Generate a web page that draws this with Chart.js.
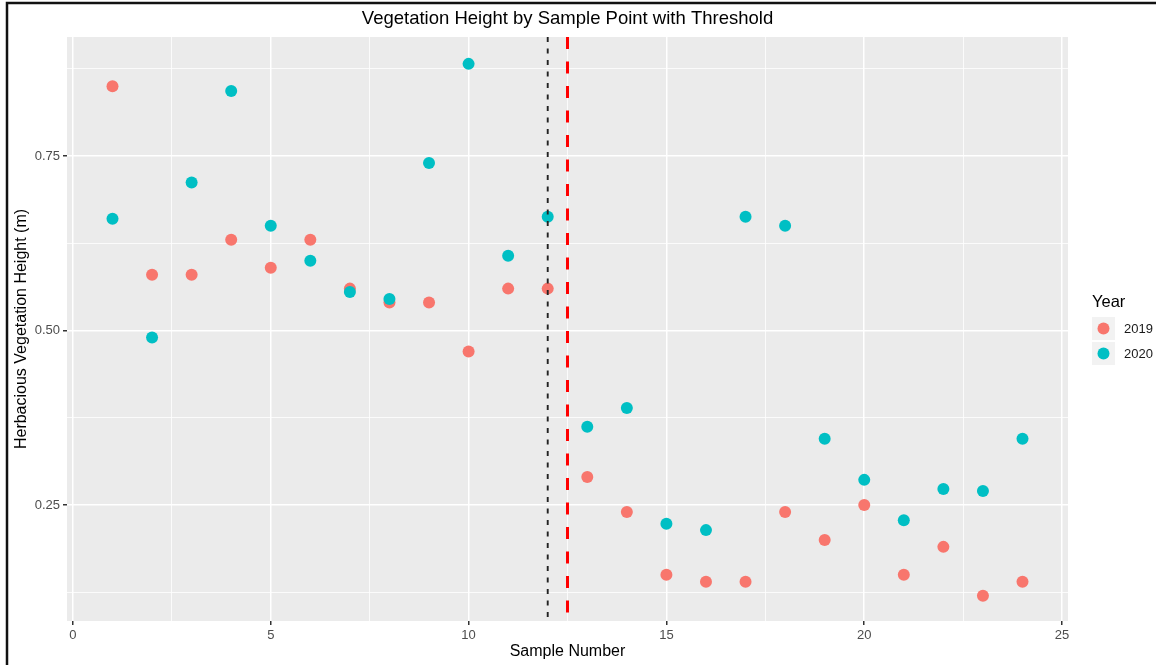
<!DOCTYPE html>
<html>
<head>
<meta charset="utf-8">
<title>Vegetation Height by Sample Point with Threshold</title>
<script src="https://cdn.jsdelivr.net/npm/chart.js@4/dist/chart.umd.min.js"></script>
<style>
  html, body { margin: 0; padding: 0; background: #ffffff; }
  canvas { display: block; }
</style>
</head>
<body>
<canvas id="chart" width="1156" height="665"></canvas>
<script>
// sample points and measured heights (m)
const samples = [1, 2, 3, 4, 5, 6, 7, 8, 9, 10, 11, 12, 13, 14, 15, 16, 17, 18, 19, 20, 21, 22, 23, 24];
const height2019 = [0.85, 0.58, 0.58, 0.63, 0.59, 0.63, 0.56, 0.54, 0.54, 0.47, 0.56, 0.56,
                    0.29, 0.24, 0.15, 0.14, 0.14, 0.24, 0.20, 0.25, 0.15, 0.19, 0.12, 0.14];
const height2020 = [0.66, 0.49, 0.712, 0.843, 0.65, 0.60, 0.555, 0.545, 0.74, 0.882, 0.607, 0.663,
                    0.362, 0.389, 0.223, 0.214, 0.663, 0.65, 0.345, 0.286, 0.228, 0.273, 0.27, 0.345];

// vertical reference lines
const sampleCutoff = 12;
const threshold = 12.5;

// axis ticks (minor ones only get a grid line)
const xTicks = [0, 2.5, 5, 7.5, 10, 12.5, 15, 17.5, 20, 22.5, 25];
const xLabels = [0, 5, 10, 15, 20, 25];
const yTicks = [0.125, 0.25, 0.375, 0.5, 0.625, 0.75, 0.875];
const yLabels = [0.25, 0.5, 0.75];

const xMin = -0.15, xMax = 25.15;
const yMin = 0.0838, yMax = 0.9205;

const FONT = '"Liberation Sans", Arial, Helvetica, sans-serif';

const toPoints = (ys) => samples.map((s, i) => ({ x: s, y: ys[i] }));
const vline = (x) => [{ x: x, y: yMax }, { x: x, y: yMin }];

// ggplot-ish panel background, frame, title and legend
const ggDecor = {
  id: 'ggDecor',
  beforeDraw(chart) {
    const { ctx, chartArea: a } = chart;
    ctx.save();
    ctx.fillStyle = '#ffffff';
    ctx.fillRect(0, 0, chart.width, chart.height);
    ctx.fillStyle = '#EBEBEB';
    ctx.fillRect(a.left, a.top, a.right - a.left, a.bottom - a.top);
    ctx.restore();
  },
  afterDraw(chart) {
    const { ctx, chartArea: a } = chart;
    ctx.save();

    // title
    ctx.fillStyle = '#000000';
    ctx.font = '18.5px ' + FONT;
    ctx.textAlign = 'center';
    ctx.textBaseline = 'middle';
    ctx.fillText('Vegetation Height by Sample Point with Threshold', (a.left + a.right) / 2, 19);

    // legend
    ctx.textAlign = 'left';
    ctx.font = '16.5px ' + FONT;
    ctx.fillStyle = '#000000';
    ctx.fillText('Year', 1092, 302);
    const keys = chart.data.datasets.filter(d => d.legend);
    keys.forEach((d, i) => {
      const top = 317 + i * 25;
      ctx.fillStyle = '#F2F2F2';
      ctx.fillRect(1092, top, 23, 23);
      ctx.fillStyle = d.backgroundColor;
      ctx.beginPath();
      ctx.arc(1103.5, top + 11.5, 6, 0, Math.PI * 2);
      ctx.fill();
      ctx.fillStyle = '#1A1A1A';
      ctx.font = '13px ' + FONT;
      ctx.fillText(d.label, 1124, top + 12);
    });

    // outer frame
    ctx.strokeStyle = '#111111';
    ctx.lineWidth = 2.5;
    ctx.beginPath();
    ctx.moveTo(7, chart.height);
    ctx.lineTo(7, 3);
    ctx.lineTo(chart.width, 3);
    ctx.stroke();
    ctx.restore();
  }
};

const isMajor = (v, labels) => labels.some(l => Math.abs(l - v) < 1e-9);

new Chart(document.getElementById('chart'), {
  type: 'scatter',
  data: {
    datasets: [
      {
        label: '2019',
        legend: true,
        data: toPoints(height2019),
        backgroundColor: '#F8766D',
        pointRadius: 6,
        pointBorderWidth: 0,
        order: 3
      },
      {
        label: '2020',
        legend: true,
        data: toPoints(height2020),
        backgroundColor: '#00BFC4',
        pointRadius: 6,
        pointBorderWidth: 0,
        order: 2
      },
      {
        label: 'cutoff',
        data: vline(sampleCutoff),
        showLine: true,
        pointRadius: 0,
        borderColor: '#222222',
        borderWidth: 1.9,
        borderDash: [5, 6.5],
        order: 1
      },
      {
        label: 'threshold',
        data: vline(threshold),
        showLine: true,
        pointRadius: 0,
        borderColor: '#FF0000',
        borderWidth: 3,
        borderDash: [12, 12.5],
        order: 1
      }
    ]
  },
  options: {
    responsive: false,
    animation: false,
    events: [],
    layout: { padding: { top: 37, right: 88, left: 0, bottom: 0 } },
    plugins: {
      legend: { display: false },
      tooltip: { enabled: false },
      title: { display: false }
    },
    scales: {
      x: {
        type: 'linear',
        min: xMin,
        max: xMax,
        afterBuildTicks: (scale) => { scale.ticks = xTicks.map(v => ({ value: v })); },
        afterFit: (scale) => { scale.height = 44; },
        border: { display: false },
        grid: {
          color: '#ffffff',
          lineWidth: (ctx) => isMajor(ctx.tick.value, xLabels) ? 1.5 : 0.8,
          tickColor: (ctx) => isMajor(ctx.tick.value, xLabels) ? '#333333' : 'rgba(0,0,0,0)',
          tickWidth: 1.5,
          tickLength: 4
        },
        ticks: {
          autoSkip: false,
          maxRotation: 0,
          padding: 3,
          color: '#4D4D4D',
          font: { family: FONT, size: 13 },
          callback: (v) => isMajor(v, xLabels) ? String(v) : ''
        },
        title: {
          display: true,
          text: 'Sample Number',
          color: '#000000',
          font: { family: FONT, size: 16 },
          padding: { top: 0, bottom: 3.4 }
        }
      },
      y: {
        type: 'linear',
        min: yMin,
        max: yMax,
        afterBuildTicks: (scale) => { scale.ticks = yTicks.map(v => ({ value: v })); },
        afterFit: (scale) => { scale.width = 67; },
        border: { display: false },
        grid: {
          color: '#ffffff',
          lineWidth: (ctx) => isMajor(ctx.tick.value, yLabels) ? 1.5 : 0.8,
          tickColor: (ctx) => isMajor(ctx.tick.value, yLabels) ? '#333333' : 'rgba(0,0,0,0)',
          tickWidth: 1.5,
          tickLength: 4
        },
        ticks: {
          autoSkip: false,
          padding: 3,
          color: '#4D4D4D',
          font: { family: FONT, size: 13 },
          callback: (v) => isMajor(v, yLabels) ? v.toFixed(2) : ''
        },
        title: {
          display: true,
          text: 'Herbacious Vegetation Height (m)',
          color: '#000000',
          font: { family: FONT, size: 16 },
          padding: { top: 12.4, bottom: 0 }
        }
      }
    }
  },
  plugins: [ggDecor]
});
</script>
</body>
</html>
